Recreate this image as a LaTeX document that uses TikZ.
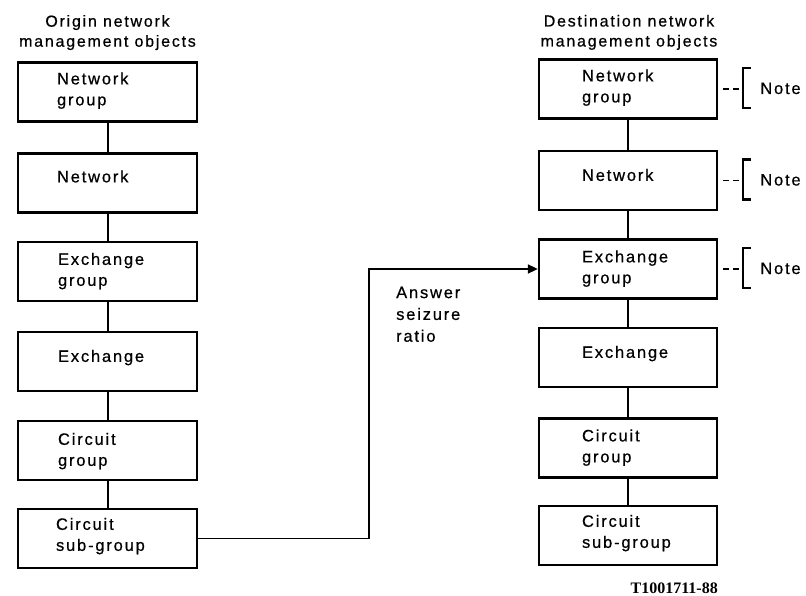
\documentclass[tikz,border=0pt]{standalone}
\usepackage{fontspec}
\setmainfont{Liberation Sans}
\newfontfamily\dfont[LetterSpace=11,FakeBold=0.6]{Liberation Sans}
\newfontfamily\codefont{Liberation Serif}
\usetikzlibrary{arrows.meta,calc}
\begin{document}
\begin{tikzpicture}[x=1pt,y=-1pt,
  box/.style={draw,line width=2.3pt,minimum width=179pt,minimum height=59pt,inner sep=0pt},
  lbl/.style={anchor=base west,inner sep=0pt,align=left,font=\dfont\fontsize{16.5}{21}\selectfont},
  ttl/.style={anchor=base,inner sep=0pt,align=center,font=\dfont\fontsize{16}{20}\selectfont},
  conn/.style={line width=2pt},
  flow/.style={line width=1.7pt,-{Triangle[length=10pt,width=9pt]}},
  notedash/.style={line width=1.7pt,dash pattern=on 6pt off 4pt},
  brk/.style={line width=2.2pt},
  notetxt/.style={anchor=base west,inner sep=0pt,font=\dfont\fontsize{16.5}{21}\selectfont}
]
\useasboundingbox (0,0) rectangle (806,596);

% titles (base anchor = last line)
\node[ttl] (tl) at (107.5,46.7) {Origin network\\management objects};
\node[ttl] (tr) at (629,46.5) {Destination network\\management objects};

% left column boxes
\node[box] (L1) at (107.5,92) {};
\node[box] (L2) at (107.5,183) {};
\node[box] (L3) at (107.5,271.5) {};
\node[box] (L4) at (107.5,361.5) {};
\node[box] (L5) at (107.5,450.5) {};
\node[box] (L6) at (107.5,538.5) {};

\node[lbl] (L1t) at ($(L1.north west)+(40,44)$) {Network\\group};
\node[lbl] (L2t) at ($(L2.north west)+(40,30)$) {Network};
\node[lbl] (L3t) at ($(L3.north west)+(41,45)$) {Exchange\\group};
\node[lbl] (L4t) at ($(L4.north west)+(41,31)$) {Exchange};
\node[lbl] (L5t) at ($(L5.north west)+(41,46)$) {Circuit\\group};
\node[lbl] (L6t) at ($(L6.north west)+(39,43)$) {Circuit\\sub-group};

% right column boxes
\node[box,minimum width=178pt] (R1) at (628,89) {};
\node[box,minimum width=178pt] (R2) at (628,180.5) {};
\node[box,minimum width=178pt] (R3) at (628,269) {};
\node[box,minimum width=178pt] (R4) at (628,357.5) {};
\node[box,minimum width=178pt] (R5) at (628,448) {};
\node[box,minimum width=178pt] (R6) at (628,535.5) {};

\node[lbl] (R1t) at ($(R1.north west)+(44,44)$) {Network\\group};
\node[lbl] (R2t) at ($(R2.north west)+(44,31)$) {Network};
\node[lbl] (R3t) at ($(R3.north west)+(44,45)$) {Exchange\\group};
\node[lbl] (R4t) at ($(R4.north west)+(44,31)$) {Exchange};
\node[lbl] (R5t) at ($(R5.north west)+(44,45)$) {Circuit\\group};
\node[lbl] (R6t) at ($(R6.north west)+(44,43)$) {Circuit\\sub-group};

% vertical connectors
\draw[conn] (L1) -- (L2);
\draw[conn] (L2) -- (L3);
\draw[conn] (L3) -- (L4);
\draw[conn] (L4) -- (L5);
\draw[conn] (L5) -- (L6);
\draw[conn] (R1) -- (R2);
\draw[conn] (R2) -- (R3);
\draw[conn] (R3) -- (R4);
\draw[conn] (R4) -- (R5);
\draw[conn] (R5) -- (R6);

% answer seizure ratio arrow
\coordinate (bend) at (369,269);
\draw[flow] (L6.east) -| (bend) -- (R3.west);
\node[lbl,font=\dfont\fontsize{16.5}{21.8}\selectfont] (asr) at (396,341.7) {Answer\\seizure\\ratio};

% notes
\foreach \b/\n in {R1/n1,R2/n2,R3/n3}{
  \coordinate (\n) at ($(\b.east)+(25,0)$);
  \draw[notedash] ($(\b.east)+(5,0)$) -- (\n);
  \draw[brk] ($(\n)+(8,-21)$) -- ($(\n)+(0,-21)$) -- ($(\n)+(0,19)$) -- ($(\n)+(8,19)$);
  \node[notetxt] (\n t) at ($(\n)+(17,5)$) {Note};
}

% figure code
\node[anchor=base east,inner sep=0pt,font=\codefont\bfseries\fontsize{16}{18}\selectfont] (code) at (718,593) {T1001711-88};
\end{tikzpicture}
\end{document}
